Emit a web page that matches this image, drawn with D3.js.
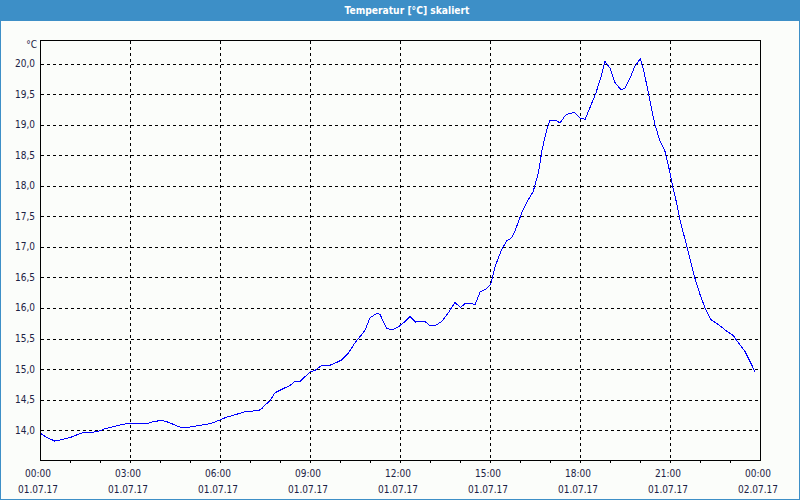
<!DOCTYPE html>
<html>
<head>
<meta charset="utf-8">
<script src="https://cdn.jsdelivr.net/npm/d3@7/dist/d3.min.js"></script>
<style>
  html, body { margin: 0; padding: 0; background: #fbfdfa; }
  svg { display: block; }
</style>
</head>
<body>
<svg id="chart" width="800" height="500"></svg>
<script>
// ---- data ----
const title = "Temperatur [°C] skaliert";
const unitLabel = "°C";
const hours = [0.0, 0.23, 0.49, 0.77, 1.04, 1.43, 1.88, 2.16, 2.6, 2.93, 3.16, 3.54, 3.71, 4.04, 4.27, 4.66, 4.99, 5.38, 5.71, 6.02, 6.21, 6.56, 6.83, 7.28, 7.39, 7.5, 7.67, 7.83, 8.11, 8.33, 8.5, 8.67, 9.0, 9.17, 9.37, 9.61, 9.94, 10.06, 10.28, 10.5, 10.83, 11.0, 11.22, 11.33, 11.44, 11.56, 11.72, 11.94, 12.17, 12.33, 12.52, 12.83, 13.0, 13.17, 13.39, 13.61, 13.83, 14.02, 14.19, 14.39, 14.5, 14.67, 14.86, 15.02, 15.17, 15.39, 15.56, 15.72, 15.83, 16.06, 16.22, 16.44, 16.61, 16.74, 16.89, 17.0, 17.22, 17.33, 17.52, 17.67, 17.83, 18.0, 18.17, 18.33, 18.53, 18.69, 18.83, 19.0, 19.17, 19.36, 19.48, 19.67, 19.83, 20.01, 20.13, 20.28, 20.39, 20.5, 20.67, 20.83, 20.94, 21.09, 21.22, 21.33, 21.56, 21.83, 22.0, 22.17, 22.36, 22.61, 22.89, 23.11, 23.28, 23.5, 23.67, 23.83];
const temps = [13.95, 13.88, 13.82, 13.85, 13.885, 13.96, 13.97, 14.02, 14.075, 14.11, 14.10, 14.10, 14.13, 14.16, 14.13, 14.05, 14.05, 14.08, 14.11, 14.17, 14.21, 14.26, 14.30, 14.32, 14.35, 14.41, 14.48, 14.61, 14.68, 14.73, 14.80, 14.80, 14.95, 14.98, 15.05, 15.05, 15.12, 15.15, 15.26, 15.43, 15.63, 15.84, 15.91, 15.90, 15.78, 15.67, 15.64, 15.69, 15.78, 15.86, 15.77, 15.78, 15.71, 15.71, 15.78, 15.92, 16.09, 16.01, 16.08, 16.08, 16.05, 16.26, 16.31, 16.39, 16.68, 16.96, 17.10, 17.15, 17.26, 17.56, 17.73, 17.91, 18.21, 18.60, 18.92, 19.08, 19.07, 19.03, 19.16, 19.19, 19.20, 19.11, 19.09, 19.28, 19.52, 19.77, 20.04, 19.93, 19.69, 19.58, 19.59, 19.77, 19.96, 20.08, 19.88, 19.52, 19.25, 19.00, 18.73, 18.57, 18.35, 17.99, 17.72, 17.45, 17.01, 16.49, 16.22, 16.00, 15.81, 15.73, 15.62, 15.55, 15.43, 15.29, 15.12, 14.96];
const yTicks = [14.0, 14.5, 15.0, 15.5, 16.0, 16.5, 17.0, 17.5, 18.0, 18.5, 19.0, 19.5, 20.0];
const xMajorTicks = [0, 3, 6, 9, 12, 15, 18, 21, 24];
const xTimeLabels = ["00:00", "03:00", "06:00", "09:00", "12:00", "15:00", "18:00", "21:00", "00:00"];
const xDateLabels = ["01.07.17", "01.07.17", "01.07.17", "01.07.17", "01.07.17", "01.07.17", "01.07.17", "01.07.17", "02.07.17"];
const xMinorTicks = d3.range(1, 24);

// ---- layout ----
const W = 800, H = 500;
const pLeft = 40, pRight = 760, pTop = 40, pBottom = 460;
const frameColor = "#3d8fc7";
const textColor = "#1c2244";
const labelFont = "'Liberation Sans Narrow', 'DejaVu Sans Condensed', 'Liberation Sans', sans-serif";

const svg = d3.select("#chart");

const x = d3.scaleLinear().domain([0, 24]).range([pLeft, pRight]);
const y = d3.scaleLinear().domain([13.51, 20.39]).range([pBottom, pTop]);

// background
svg.append("rect").attr("x", 0).attr("y", 0).attr("width", W).attr("height", H).attr("fill", "#fbfdfa");
// window border
svg.append("rect").attr("x", 0.5).attr("y", 0.5).attr("width", W - 1).attr("height", H - 1)
  .attr("fill", "none").attr("stroke", frameColor).attr("stroke-width", 1).attr("shape-rendering", "crispEdges");
// title bar
svg.append("rect").attr("x", 0).attr("y", 0).attr("width", W).attr("height", 21).attr("fill", frameColor);
const t = svg.append("text").attr("x", 407).attr("y", 10.5)
  .attr("text-anchor", "middle").attr("dominant-baseline", "middle")
  .attr("fill", "#ffffff").attr("font-weight", "bold")
  .attr("font-family", "'DejaVu Sans Condensed', 'Liberation Sans', sans-serif")
  .attr("font-size", "11px").text(title);
const tl = t.node().getComputedTextLength();
if (Math.abs(tl - 125) > 6) t.attr("textLength", 125).attr("lengthAdjust", "spacingAndGlyphs");

// grid
const grid = svg.append("g").attr("stroke", "#000").attr("stroke-width", 1)
  .attr("stroke-dasharray", "3,3").attr("shape-rendering", "crispEdges");
grid.selectAll("line.h").data(yTicks).join("line").attr("class", "h")
  .attr("x1", pLeft + 1).attr("x2", pRight)
  .attr("y1", d => Math.round(y(d)) + 0.5).attr("y2", d => Math.round(y(d)) + 0.5);
grid.selectAll("line.v").data(xMajorTicks.slice(1, -1)).join("line").attr("class", "v")
  .attr("x1", d => Math.round(x(d)) + 0.5).attr("x2", d => Math.round(x(d)) + 0.5)
  .attr("y1", pTop + 1).attr("y2", pBottom);

// minor ticks below axis
svg.append("g").selectAll("line").data(xMinorTicks).join("line")
  .attr("x1", d => Math.round(x(d)) + 0.5).attr("x2", d => Math.round(x(d)) + 0.5)
  .attr("y1", pBottom).attr("y2", pBottom + 3)
  .attr("stroke", "#000").attr("shape-rendering", "crispEdges");

// data line
const line = d3.line().x((d, i) => x(hours[i])).y(d => y(d));
svg.append("path").datum(temps).attr("d", line)
  .attr("fill", "none").attr("stroke", "#0000ff").attr("stroke-width", 1)
  .attr("shape-rendering", "crispEdges");

// plot frame
svg.append("rect").attr("x", pLeft + 0.5).attr("y", pTop + 0.5)
  .attr("width", pRight - pLeft).attr("height", pBottom - pTop)
  .attr("fill", "none").attr("stroke", "#000").attr("stroke-width", 1).attr("shape-rendering", "crispEdges");

// y labels
const fmt = v => v.toFixed(1).replace(".", ",");
svg.append("g").selectAll("text").data(yTicks).join("text")
  .attr("x", 35).attr("y", d => y(d) + 0.5)
  .attr("text-anchor", "end").attr("dominant-baseline", "middle")
  .attr("font-family", labelFont).attr("font-size", "10px").attr("fill", textColor)
  .text(d => fmt(d));
svg.append("text").attr("x", 37).attr("y", 45)
  .attr("text-anchor", "end").attr("dominant-baseline", "middle")
  .attr("font-family", labelFont).attr("font-size", "10px").attr("fill", textColor)
  .text(unitLabel);

// x labels
const xl = svg.append("g");
xl.selectAll("text.time").data(xMajorTicks).join("text").attr("class", "time")
  .attr("x", d => x(d) - 2).attr("y", 473.5)
  .attr("text-anchor", "middle").attr("dominant-baseline", "middle")
  .attr("font-family", labelFont).attr("font-size", "10px").attr("fill", textColor)
  .text((d, i) => xTimeLabels[i]);
xl.selectAll("text.date").data(xMajorTicks).join("text").attr("class", "date")
  .attr("x", d => x(d) - 2).attr("y", 489.5)
  .attr("text-anchor", "middle").attr("dominant-baseline", "middle")
  .attr("font-family", labelFont).attr("font-size", "10px").attr("fill", textColor)
  .text((d, i) => xDateLabels[i]);
</script>
</body>
</html>
